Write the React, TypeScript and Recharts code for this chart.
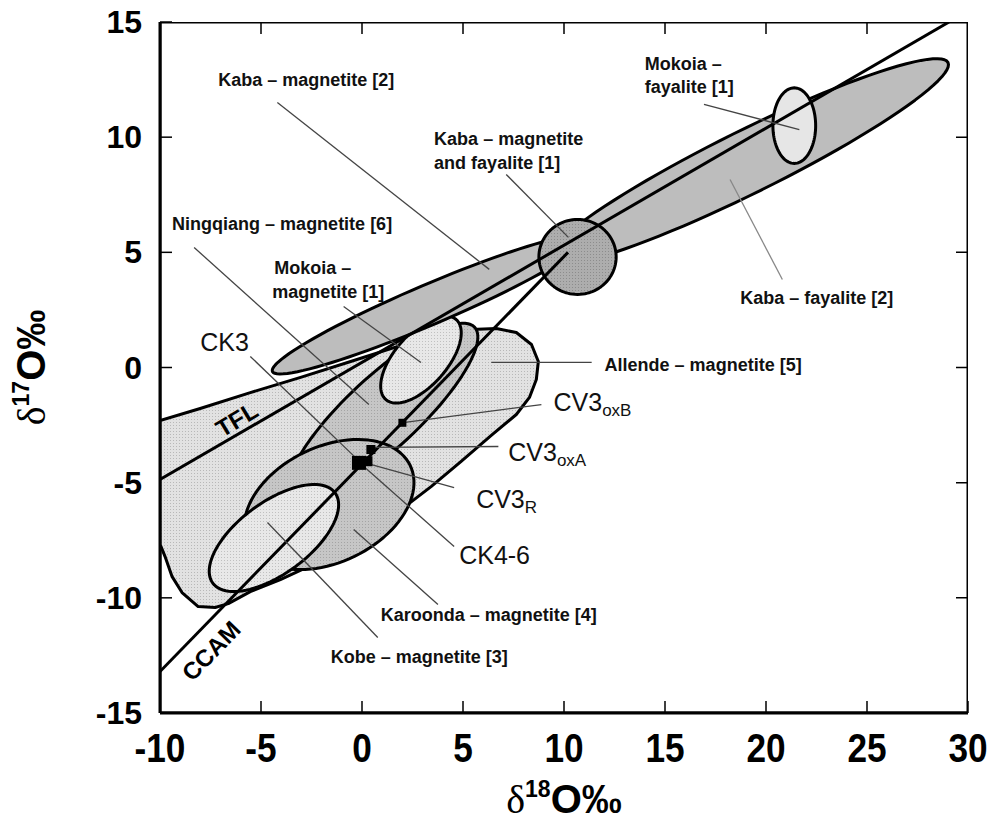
import React from "react"
import { ScatterChart, Scatter, XAxis, YAxis } from "recharts"

const xTicks = [-10, -5, 0, 5, 10, 15, 20, 25, 30]
const yTicks = [-15, -10, -5, 0, 5, 10, 15]

// ellipses: centre plus the two conjugate semi-diameters (in ‰)
const kabaFayalite = { cx: 19.07, cy: 8.92, ax: 9.94, ay: 4.32, bx: 0.693, by: -1.217 }
const kabaMagnetite = { cx: 3.342, cy: 2.736, ax: 7.776, ay: 2.909, bx: 0.392, by: -0.798 }
const kabaBoth = { cx: 10.67, cy: 4.8, ax: 1.913, ay: 0, bx: 0, by: -1.628 }
const mokoiaFayalite = { cx: 21.4, cy: 10.5, ax: 1.058, ay: 0, bx: 0, by: -1.641 }
const mokoiaMagnetite = { cx: 2.919, cy: 0.347, ax: 1.741, ay: 1.738, bx: 0.972, by: -0.744 }
const ningqiang = { cx: 1.031, cy: -1.954, ax: 4.543, ay: 3.702, bx: 1.22, by: -1.143 }
const karoonda = { cx: -1.627, cy: -5.949, ax: 4.01, ay: 1.701, bx: 1.252, by: -2.254 }
const kobe = { cx: -4.36, cy: -7.403, ax: 3.024, ay: 1.962, bx: 1.058, by: -1.245 }

// Allende field outline
const allende = [
  [-10, -2.3], [-8.01, -1.78], [-5.53, -1.09], [-3.04, -0.43], [-0.56, 0.26],
  [1.93, 0.96], [3.91, 1.39], [5.4, 1.65], [6.65, 1.69], [7.64, 1.52],
  [8.39, 1.0], [8.73, 0.26], [8.63, -0.52], [8.29, -1.3], [7.64, -2.04],
  [6.4, -2.95], [4.91, -4.08], [3.42, -5.17], [1.93, -6.17], [0.44, -7.08],
  [-1.06, -7.9], [-2.55, -8.6], [-4.04, -9.21], [-5.53, -9.73], [-6.62, -10.25],
  [-7.27, -10.42], [-8.11, -10.38], [-8.91, -9.77], [-9.4, -9.08], [-9.75, -8.21],
  [-9.95, -7.77], [-10, -7.69],
]

const tfl = [[-10, -4.86], [29.06, 15]]
const ccam = [[-10, -13.2], [10.2, 5.0]]

const leaders = [
  [-4.19, 11.51, 6.3, 4.26],
  [7.14, 8.38, 10.22, 5.65],
  [16.93, 11.42, 21.65, 10.33],
  [20.81, 3.82, 18.22, 8.16],
  [-8.31, 5.21, 0.34, -1.61],
  [-0.91, 2.65, 2.92, 0.22],
  [6.4, 0.22, 11.37, 0.22],
  [2.03, -2.39, 8.88, -1.61],
  [0.53, -3.47, 6.75, -3.43],
  [0.29, -4.17, 4.56, -5.21],
  [0.09, -4.3, 4.56, -7.77],
  [-5.53, 0.48, -0.06, -4.13],
  [-0.41, -7.03, 3.76, -10.29],
  [-4.68, -6.73, 0.78, -11.72],
]

const squares = [
  { id: "oxB", x: 2.0, y: -2.4 },
  { id: "oxA", x: 0.44, y: -3.56 },
  { id: "R", x: 0.27, y: -4.07 },
  { id: "CK", x: -0.15, y: -4.14 },
]

const smallLabels = [
  { text: "Kaba – magnetite [2]", x: -7.12, y: 12.5 },
  { text: "Kaba – magnetite", x: 3.57, y: 9.9 },
  { text: "and fayalite [1]", x: 3.57, y: 8.86 },
  { text: "Mokoia –", x: 14.0, y: 13.16 },
  { text: "fayalite [1]", x: 14.0, y: 12.16 },
  { text: "Kaba – fayalite [2]", x: 18.72, y: 3.0 },
  { text: "Ningqiang – magnetite [6]", x: -9.4, y: 6.21 },
  { text: "Mokoia –", x: -4.34, y: 4.34 },
  { text: "magnetite [1]", x: -4.44, y: 3.26 },
  { text: "Allende – magnetite [5]", x: 12.01, y: 0.13 },
  { text: "Karoonda – magnetite [4]", x: 0.93, y: -10.73 },
  { text: "Kobe – magnetite [3]", x: -1.55, y: -12.59 },
]

const groupLabels = [
  { text: "CK3", sub: "", x: -8.01, y: 1.09 },
  { text: "CV3", sub: "oxB", x: 9.48, y: -1.48 },
  { text: "CV3", sub: "oxA", x: 7.24, y: -3.65 },
  { text: "CV3", sub: "R", x: 5.65, y: -5.73 },
  { text: "CK4-6", sub: "", x: 4.81, y: -8.16 },
]

const lineLabels = [
  { text: "TFL", x: -6.2, y: -2.25 },
  { text: "CCAM", x: -7.47, y: -12.3 },
]

const SANS = "'Liberation Sans', Arial, sans-serif"
const squareSize: Record<string, number> = { oxB: 8, oxA: 9, R: 10, CK: 14 }
const lineLabelAngle: Record<string, number> = { TFL: -31, CCAM: -46 }
const leaderColor = ["#444", "#444", "#444", "#888", "#444", "#444", "#444", "#444", "#444", "#444", "#444", "#444", "#444", "#444"]
const TICK_LEN = 12

function ellipsePoints(e: typeof kobe) {
  const pts = []
  for (let i = 0; i <= 96; i++) {
    const t = (i / 96) * Math.PI * 2
    pts.push({
      x: e.cx + e.ax * Math.cos(t) + e.bx * Math.sin(t),
      y: e.cy + e.ay * Math.cos(t) + e.by * Math.sin(t),
    })
  }
  return pts
}

const toPts = (arr: number[][]) => arr.map(([x, y]) => ({ x, y }))

// plot frame corners: bottom-left, bottom-right, top-right, top-left
const xMin = xTicks[0]
const xMax = xTicks[xTicks.length - 1]
const yMin = yTicks[0]
const yMax = yTicks[yTicks.length - 1]
const frame = [
  { x: xMin, y: yMin }, { x: xMax, y: yMin }, { x: xMax, y: yMax }, { x: xMin, y: yMax },
]

const fields = [
  { key: "allende", pts: toPts(allende), fill: "url(#stipLight)" },
  { key: "ningqiang", pts: ellipsePoints(ningqiang), fill: "url(#stipMid)" },
  { key: "karoonda", pts: ellipsePoints(karoonda), fill: "url(#stipMid)" },
  { key: "kobe", pts: ellipsePoints(kobe), fill: "url(#stipPale)" },
  { key: "mokoiaMag", pts: ellipsePoints(mokoiaMagnetite), fill: "url(#stipPale)" },
  { key: "kabaMag", pts: ellipsePoints(kabaMagnetite), fill: "#bdbdbd" },
  { key: "kabaFay", pts: ellipsePoints(kabaFayalite), fill: "#bdbdbd" },
  { key: "kabaBoth", pts: ellipsePoints(kabaBoth), fill: "url(#stipDark)" },
  { key: "mokoiaFay", pts: ellipsePoints(mokoiaFayalite), fill: "#e6e6e6" },
]

const NoDot = () => <g />

// draws the box from the scaled corner points, plus the inward ticks on the top and right edges
const FrameBox = (props: any) => {
  const pts = props.points || []
  if (pts.length < 4) return <g />
  const [bl, br, tr, tl] = pts
  const px = (v: number) => bl.x + ((v - xMin) / (xMax - xMin)) * (br.x - bl.x)
  const py = (v: number) => bl.y + ((v - yMin) / (yMax - yMin)) * (tl.y - bl.y)
  let d = ""
  xTicks.slice(1, -1).forEach((v) => {
    d += `M${px(v)},${tl.y}L${px(v)},${tl.y + TICK_LEN}`
  })
  yTicks.slice(1, -1).forEach((v) => {
    d += `M${tr.x},${py(v)}L${tr.x - TICK_LEN},${py(v)}`
  })
  return (
    <g>
      <path d={d} stroke="#000" strokeWidth={1.5} fill="none" />
      <path
        d={`M${bl.x},${bl.y}L${br.x},${br.y}L${tr.x},${tr.y}L${tl.x},${tl.y}Z`}
        stroke="#000"
        strokeWidth={3}
        fill="none"
        strokeLinejoin="miter"
      />
    </g>
  )
}

const SquareDot = (p: any) => {
  const s = squareSize[p.payload.id]
  return <rect x={p.cx - s / 2} y={p.cy - s / 2} width={s} height={s} fill="#000" />
}

const SmallText = (p: any) => (
  <text x={p.cx} y={p.cy} dominantBaseline="central" fontFamily={SANS} fontWeight="bold" fontSize={18} fill="#111">
    {p.payload.text}
  </text>
)

const GroupText = (p: any) => (
  <text x={p.cx} y={p.cy} dominantBaseline="central" fontFamily={SANS} fontSize={25} fill="#111">
    {p.payload.text}
    {p.payload.sub && (
      <tspan fontSize={17} dy={8}>
        {p.payload.sub}
      </tspan>
    )}
  </text>
)

const LineText = (p: any) => (
  <text
    x={p.cx}
    y={p.cy}
    textAnchor="middle"
    dominantBaseline="central"
    fontFamily={SANS}
    fontWeight="bold"
    fontSize={24}
    fill="#000"
    transform={`rotate(${lineLabelAngle[p.payload.text]} ${p.cx} ${p.cy})`}
  >
    {p.payload.text}
  </text>
)

const XTick = (p: any) => (
  <text
    transform={`translate(${p.x},${p.y}) scale(0.88,1)`}
    textAnchor="middle"
    fontFamily={SANS}
    fontWeight="bold"
    fontSize={40}
    fill="#000"
  >
    {p.payload.value}
  </text>
)

const YTick = (p: any) => (
  <text x={p.x} y={p.y} textAnchor="end" dominantBaseline="central" fontFamily={SANS} fontWeight="bold" fontSize={32} fill="#000">
    {p.payload.value}
  </text>
)

const XTitle = (p: any) => {
  const vb = p.viewBox
  return (
    <text x={vb.x + vb.width / 2} y={vb.y + 100} textAnchor="middle" fill="#000">
      <tspan fontFamily="'Liberation Serif', serif" fontSize={40}>δ</tspan>
      <tspan fontFamily={SANS} fontWeight="bold" fontSize={23} dy={-16}>18</tspan>
      <tspan fontFamily={SANS} fontWeight="bold" fontSize={40} dy={16}>O‰</tspan>
    </text>
  )
}

const YTitle = (p: any) => {
  const vb = p.viewBox
  const cx = 37
  const cy = vb.y + vb.height / 2
  return (
    <text x={cx} y={cy} textAnchor="middle" fill="#000" transform={`rotate(-90 ${cx} ${cy})`}>
      <tspan fontFamily="'Liberation Serif', serif" fontSize={40}>δ</tspan>
      <tspan fontFamily={SANS} fontWeight="bold" fontSize={23} dy={-16}>17</tspan>
      <tspan fontFamily={SANS} fontWeight="bold" fontSize={40} dy={16}>O‰</tspan>
    </text>
  )
}

const axisLine = { stroke: "#000", strokeWidth: 3 }
const tickLine = { stroke: "#000", strokeWidth: 1.5 }

function Stipple({ id, base, dot }: { id: string; base: string; dot: string }) {
  return (
    <pattern id={id} width={3} height={3} patternUnits="userSpaceOnUse">
      <rect width={3} height={3} fill={base} />
      <rect width={1} height={1} fill={dot} />
    </pattern>
  )
}

export default function App() {
  return (
    <div style={{ width: 985, height: 815 }}>
      <ScatterChart width={985} height={815} margin={{ top: 14, right: 25, bottom: 0, left: 0 }}>
        <defs>
          <Stipple id="stipLight" base="#e2e2e2" dot="#b8b8b8" />
          <Stipple id="stipPale" base="#e8e8e8" dot="#c0c0c0" />
          <Stipple id="stipMid" base="#c6c6c6" dot="#a4a4a4" />
          <Stipple id="stipDark" base="#adadad" dot="#8c8c8c" />
        </defs>
        <XAxis
          type="number"
          dataKey="x"
          domain={[-10, 30]}
          ticks={xTicks}
          interval={0}
          allowDataOverflow
          height={110}
          tickSize={-12}
          tickMargin={61}
          axisLine={axisLine}
          tickLine={tickLine}
          tick={XTick}
          label={{ content: XTitle }}
        />
        <YAxis
          type="number"
          dataKey="y"
          domain={[-15, 15]}
          ticks={yTicks}
          interval={0}
          allowDataOverflow
          width={152}
          tickSize={-12}
          tickMargin={30}
          axisLine={axisLine}
          tickLine={tickLine}
          tick={YTick}
          label={{ content: YTitle }}
        />

        {fields.map((f) => (
          <Scatter
            key={f.key}
            data={f.pts}
            shape={NoDot}
            line={{ fill: f.fill, stroke: "#000", strokeWidth: 3, strokeLinejoin: "round" }}
            lineJointType="linearClosed"
            legendType="none"
            isAnimationActive={false}
          />
        ))}

        <Scatter data={toPts(tfl)} shape={NoDot} line={{ stroke: "#000", strokeWidth: 3 }} legendType="none" isAnimationActive={false} />
        <Scatter data={toPts(ccam)} shape={NoDot} line={{ stroke: "#000", strokeWidth: 3 }} legendType="none" isAnimationActive={false} />

        {leaders.map((l, i) => (
          <Scatter
            key={"leader" + i}
            data={[{ x: l[0], y: l[1] }, { x: l[2], y: l[3] }]}
            shape={NoDot}
            line={{ stroke: leaderColor[i], strokeWidth: 1.3 }}
            legendType="none"
            isAnimationActive={false}
          />
        ))}

        <Scatter data={squares} shape={SquareDot} legendType="none" isAnimationActive={false} />
        <Scatter data={smallLabels} shape={SmallText} legendType="none" isAnimationActive={false} />
        <Scatter data={groupLabels} shape={GroupText} legendType="none" isAnimationActive={false} />
        <Scatter data={lineLabels} shape={LineText} legendType="none" isAnimationActive={false} />

        <Scatter data={frame} shape={NoDot} line={FrameBox} legendType="none" isAnimationActive={false} />
      </ScatterChart>
    </div>
  )
}
